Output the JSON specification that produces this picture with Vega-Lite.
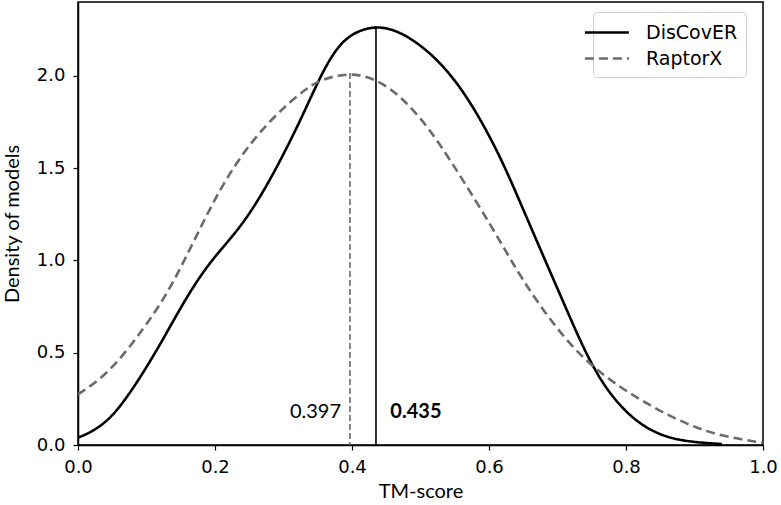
{
  "$schema": "https://vega.github.io/schema/vega-lite/v6.json",
  "autosize": {"type": "none"},
  "padding": {"left": 78, "top": 2, "right": 18, "bottom": 60},
  "width": 685,
  "height": 443,
  "background": "white",
  "config": {
    "view": {"stroke": "black", "strokeWidth": 1.5},
    "axis": {
      "grid": false,
      "labelFlush": false,
      "domainColor": "black",
      "domainWidth": 1.5,
      "tickColor": "black",
      "tickWidth": 1.2,
      "tickSize": 5,
      "labelFont": "DejaVu Sans",
      "labelFontSize": 18,
      "labelColor": "black",
      "titleFont": "Lato",
      "titleFontSize": 20,
      "titleFontWeight": "normal",
      "titleColor": "black"
    }
  },
  "datasets": {
    "curves": [
      {"model": "DisCovER", "x": 0.0, "density": 0.04},
      {"model": "DisCovER", "x": 0.02, "density": 0.07},
      {"model": "DisCovER", "x": 0.046, "density": 0.138},
      {"model": "DisCovER", "x": 0.07, "density": 0.25},
      {"model": "DisCovER", "x": 0.095, "density": 0.39},
      {"model": "DisCovER", "x": 0.124, "density": 0.57},
      {"model": "DisCovER", "x": 0.158, "density": 0.8},
      {"model": "DisCovER", "x": 0.192, "density": 0.99},
      {"model": "DisCovER", "x": 0.226, "density": 1.13},
      {"model": "DisCovER", "x": 0.256, "density": 1.28},
      {"model": "DisCovER", "x": 0.29, "density": 1.5},
      {"model": "DisCovER", "x": 0.325, "density": 1.76},
      {"model": "DisCovER", "x": 0.349, "density": 1.96},
      {"model": "DisCovER", "x": 0.373, "density": 2.13},
      {"model": "DisCovER", "x": 0.398, "density": 2.23},
      {"model": "DisCovER", "x": 0.435, "density": 2.275},
      {"model": "DisCovER", "x": 0.471, "density": 2.24},
      {"model": "DisCovER", "x": 0.51, "density": 2.14},
      {"model": "DisCovER", "x": 0.544, "density": 2.01},
      {"model": "DisCovER", "x": 0.578, "density": 1.83},
      {"model": "DisCovER", "x": 0.617, "density": 1.56},
      {"model": "DisCovER", "x": 0.646, "density": 1.31},
      {"model": "DisCovER", "x": 0.675, "density": 1.06},
      {"model": "DisCovER", "x": 0.709, "density": 0.77},
      {"model": "DisCovER", "x": 0.743, "density": 0.48},
      {"model": "DisCovER", "x": 0.773, "density": 0.29},
      {"model": "DisCovER", "x": 0.807, "density": 0.15},
      {"model": "DisCovER", "x": 0.841, "density": 0.066},
      {"model": "DisCovER", "x": 0.88, "density": 0.02},
      {"model": "DisCovER", "x": 0.94, "density": 0.005},
      {"model": "RaptorX", "x": 0.0, "density": 0.274},
      {"model": "RaptorX", "x": 0.046, "density": 0.39},
      {"model": "RaptorX", "x": 0.095, "density": 0.626},
      {"model": "RaptorX", "x": 0.129, "density": 0.81},
      {"model": "RaptorX", "x": 0.158, "density": 1.02},
      {"model": "RaptorX", "x": 0.187, "density": 1.24},
      {"model": "RaptorX", "x": 0.217, "density": 1.45},
      {"model": "RaptorX", "x": 0.256, "density": 1.66},
      {"model": "RaptorX", "x": 0.3, "density": 1.83},
      {"model": "RaptorX", "x": 0.333, "density": 1.93},
      {"model": "RaptorX", "x": 0.354, "density": 1.98},
      {"model": "RaptorX", "x": 0.398, "density": 2.02},
      {"model": "RaptorX", "x": 0.437, "density": 1.98},
      {"model": "RaptorX", "x": 0.471, "density": 1.89},
      {"model": "RaptorX", "x": 0.51, "density": 1.73},
      {"model": "RaptorX", "x": 0.544, "density": 1.54},
      {"model": "RaptorX", "x": 0.583, "density": 1.31},
      {"model": "RaptorX", "x": 0.617, "density": 1.1},
      {"model": "RaptorX", "x": 0.646, "density": 0.91},
      {"model": "RaptorX", "x": 0.695, "density": 0.644},
      {"model": "RaptorX", "x": 0.743, "density": 0.446},
      {"model": "RaptorX", "x": 0.792, "density": 0.31},
      {"model": "RaptorX", "x": 0.841, "density": 0.2},
      {"model": "RaptorX", "x": 0.89, "density": 0.11},
      {"model": "RaptorX", "x": 0.938, "density": 0.048},
      {"model": "RaptorX", "x": 1.0, "density": 0.012}
    ],
    "peaks": [
      {"model": "DisCovER", "x": 0.435, "top": 2.27, "bottom": 0, "label": "0.435", "labelX": 0.456, "labelY": 0.18},
      {"model": "RaptorX", "x": 0.397, "top": 2.015, "bottom": 0, "label": "0.397", "labelX": 0.384, "labelY": 0.18}
    ]
  },
  "layer": [
    {
      "data": {"name": "curves"},
      "mark": {"type": "line", "strokeWidth": 2.6, "interpolate": "basis"},
      "encoding": {
        "x": {"field": "x", "type": "quantitative", "scale": {"domain": [0, 1], "nice": false, "zero": false},
              "axis": {"values": [0, 0.2, 0.4, 0.6, 0.8, 1.0], "format": ".1f", "title": "TM-score", "titlePadding": 5, "labelPadding": 8}},
        "y": {"field": "density", "type": "quantitative", "scale": {"domain": [0, 2.4], "nice": false},
              "axis": {"values": [0, 0.5, 1.0, 1.5, 2.0], "format": ".1f", "title": "Density of models", "titlePadding": 14, "labelPadding": 8}},
        "color": {"field": "model", "type": "nominal", "scale": {"domain": ["DisCovER", "RaptorX"], "range": ["black", "#6b6b6b"]},
                  "legend": {"title": null, "orient": "none", "legendX": 515, "legendY": 10, "symbolType": "M-2.6,0H1.4", "symbolSize": 484, "symbolStrokeWidth": 2.6,
                             "labelFont": "DejaVu Sans", "labelFontSize": 19, "labelColor": "black", "labelOffset": 20,
                             "fillColor": "white", "strokeColor": "#d0d0d0", "cornerRadius": 4, "padding": 8, "rowPadding": 3}},
        "strokeDash": {"field": "model", "type": "nominal", "scale": {"domain": ["DisCovER", "RaptorX"], "range": [[1, 0], [9, 5]]}, "legend": null}
      }
    },
    {
      "data": {"name": "peaks"},
      "transform": [{"filter": "datum.model === 'DisCovER'"}],
      "mark": {"type": "rule", "strokeWidth": 1.6, "color": "black"},
      "encoding": {
        "x": {"field": "x", "type": "quantitative"},
        "y": {"field": "top", "type": "quantitative"},
        "y2": {"field": "bottom"}
      }
    },
    {
      "data": {"name": "peaks"},
      "transform": [{"filter": "datum.model === 'RaptorX'"}],
      "mark": {"type": "rule", "strokeWidth": 1.6, "color": "#6b6b6b", "strokeDash": [6, 3]},
      "encoding": {
        "x": {"field": "x", "type": "quantitative"},
        "y": {"field": "top", "type": "quantitative"},
        "y2": {"field": "bottom"}
      }
    },
    {
      "data": {"name": "peaks"},
      "transform": [{"filter": "datum.model === 'RaptorX'"}],
      "mark": {"type": "text", "font": "Lato", "fontSize": 20, "align": "right", "baseline": "middle", "color": "black"},
      "encoding": {
        "x": {"field": "labelX", "type": "quantitative"},
        "y": {"field": "labelY", "type": "quantitative"},
        "text": {"field": "label"}
      }
    },
    {
      "data": {"name": "peaks"},
      "transform": [{"filter": "datum.model === 'DisCovER'"}],
      "mark": {"type": "text", "font": "Lato", "fontSize": 20, "fontWeight": "bold", "align": "left", "baseline": "middle", "color": "black"},
      "encoding": {
        "x": {"field": "labelX", "type": "quantitative"},
        "y": {"field": "labelY", "type": "quantitative"},
        "text": {"field": "label"}
      }
    }
  ]
}
